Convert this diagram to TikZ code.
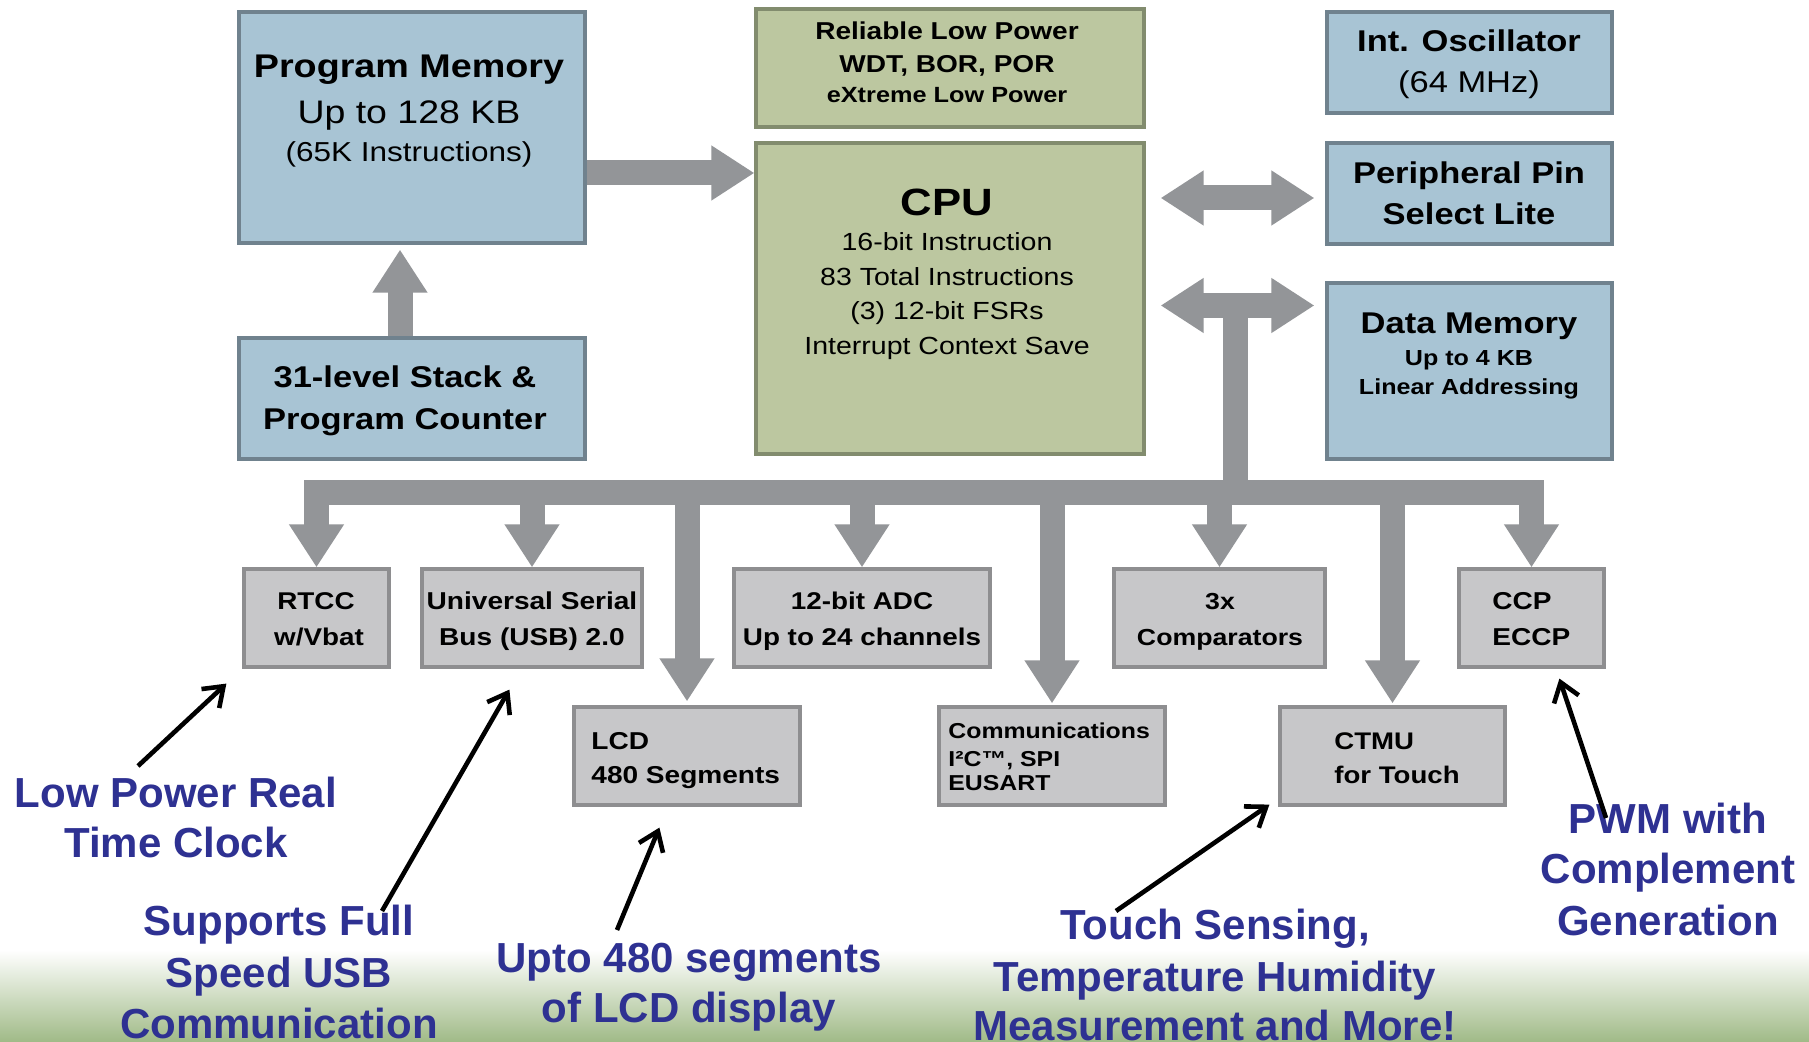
\documentclass[tikz,border=0pt]{standalone}
\usepackage{fontspec}
\setmainfont{Liberation Sans}
\newfontfamily\boxfont[FakeStretch=1.15]{Liberation Sans}
\newfontfamily\lblfont{Liberation Sans}
\usetikzlibrary{arrows.meta,calc}
\definecolor{bluefill}{RGB}{168,196,212}
\definecolor{blueedge}{RGB}{112,130,142}
\definecolor{greenfill}{RGB}{188,199,160}
\definecolor{greenedge}{RGB}{130,140,110}
\definecolor{grayfill}{RGB}{199,199,201}
\definecolor{grayedge}{RGB}{142,142,144}
\definecolor{arrowgray}{RGB}{147,149,152}
\definecolor{lblblue}{RGB}{46,49,146}
\definecolor{grass}{RGB}{160,186,135}
\newcommand\fsz[1]{\fontsize{#1}{#1}\selectfont}
\begin{document}
\begin{tikzpicture}[x=0.5pt,y=-0.5pt,
  box/.style={rectangle, inner sep=0, line width=1.6pt},
  bluebox/.style={box, fill=bluefill, draw=blueedge},
  greenbox/.style={box, fill=greenfill, draw=greenedge},
  graybox/.style={box, fill=grayfill, draw=grayedge},
  bt/.style={anchor=base, inner sep=0, text=black},
  btl/.style={anchor=base west, inner sep=0, text=black},
  lbl/.style={anchor=base, inner sep=0, text=lblblue, font=\lblfont\bfseries\fsz{21pt}},
  fat/.style={draw=arrowgray, line width=12.5pt, line join=miter, >={Triangle[length=21.5pt,width=26pt]}},
  note/.style={draw=black, line width=2.3pt, -{Straight Barb[length=9pt,width=13pt]}}
]
\useasboundingbox (0,0) rectangle (1809,1042);
\fill[white] (0,0) rectangle (1809,1042);
\shade[top color=white, bottom color=grass] (0,950) rectangle (1809,1042);

% ---- boxes ----
\node[bluebox, minimum width=173pt, minimum height=115.5pt] (pm) at (412,127.5) {};
\node[bluebox, minimum width=173pt, minimum height=60.5pt] (stack) at (412,398.5) {};
\node[greenbox, minimum width=194pt, minimum height=59pt] (rel) at (950,68) {};
\node[greenbox, minimum width=194pt, minimum height=155.5pt] (cpu) at (950,298.5) {};
\node[bluebox, minimum width=142.5pt, minimum height=50.5pt] (osc) at (1469.5,62.5) {};
\node[bluebox, minimum width=142.5pt, minimum height=50.5pt] (pps) at (1469.5,193.5) {};
\node[bluebox, minimum width=142.5pt, minimum height=88pt] (dm) at (1469.5,371) {};
\node[graybox, minimum width=72.5pt, minimum height=49pt] (rtcc) at (316.5,618) {};
\node[graybox, minimum width=110pt, minimum height=49pt] (usb) at (532,618) {};
\node[graybox, minimum width=128pt, minimum height=49pt] (adc) at (862,618) {};
\node[graybox, minimum width=105.5pt, minimum height=49pt] (cmp) at (1219.5,618) {};
\node[graybox, minimum width=72.5pt, minimum height=49pt] (ccp) at (1531.5,618) {};
\node[graybox, minimum width=113pt, minimum height=49pt] (lcd) at (687,756) {};
\node[graybox, minimum width=113pt, minimum height=49pt] (comm) at (1052,756) {};
\node[graybox, minimum width=112.5pt, minimum height=49pt] (ctmu) at (1392.5,756) {};

% ---- box texts ----
\node[bt, font=\boxfont\bfseries\fsz{16.4pt}] (pm1) at (409,78) {Program Memory};
\node[bt, font=\boxfont\fsz{16.3pt}] (pm2) at (409,124) {Up to 128 KB};
\node[bt, font=\boxfont\fsz{13.7pt}] (pm3) at (409,162) {(65K Instructions)};
\node[bt, font=\boxfont\bfseries\fsz{12.2pt}] (rel1) at (947,40) {Reliable Low Power};
\node[bt, font=\boxfont\bfseries\fsz{12.2pt}] (rel2) at (947,73) {WDT, BOR, POR};
\node[bt, font=\boxfont\bfseries\fsz{11pt}] (rel3) at (947,103) {eXtreme Low Power};
\node[bt, font=\boxfont\bfseries\fsz{19pt}] (cpu1) at (947,216) {CPU};
\node[bt, font=\boxfont\fsz{12.4pt}] (cpu2) at (947,251) {16-bit Instruction};
\node[bt, font=\boxfont\fsz{12.4pt}] (cpu3) at (947,285.5) {83 Total Instructions};
\node[bt, font=\boxfont\fsz{12.4pt}] (cpu4) at (947,320) {(3) 12-bit FSRs};
\node[bt, font=\boxfont\fsz{12.4pt}] (cpu5) at (947,354.5) {Interrupt Context Save};
\node[bt, font=\boxfont\bfseries\fsz{15pt}] (osc1) at (1469,52) {Int. Oscillator};
\node[bt, font=\boxfont\fsz{15pt}] (osc2) at (1469,93) {(64 MHz)};
\node[bt, font=\boxfont\bfseries\fsz{15pt}] (pps1) at (1469,184) {Peripheral Pin};
\node[bt, font=\boxfont\bfseries\fsz{15pt}] (pps2) at (1469,225) {Select Lite};
\node[bt, font=\boxfont\bfseries\fsz{15pt}] (dm1) at (1469,334) {Data Memory};
\node[bt, font=\boxfont\bfseries\fsz{10.9pt}] (dm2) at (1469,366) {Up to 4 KB};
\node[bt, font=\boxfont\bfseries\fsz{10.9pt}] (dm3) at (1469,395) {Linear Addressing};
\node[bt, font=\boxfont\bfseries\fsz{15pt}] (st1) at (405,388) {31-level Stack \&};
\node[bt, font=\boxfont\bfseries\fsz{15pt}] (st2) at (405,430) {Program Counter};
\node[bt, font=\boxfont\bfseries\fsz{12.1pt}] (rt1) at (316,610) {RTCC};
\node[bt, font=\boxfont\bfseries\fsz{12.1pt}] (rt2) at (319,645) {w/Vbat};
\node[bt, font=\boxfont\bfseries\fsz{12.2pt}] (usb1) at (532,610) {Universal Serial};
\node[bt, font=\boxfont\bfseries\fsz{12.2pt}] (usb2) at (532,645) {Bus (USB) 2.0};
\node[bt, font=\boxfont\bfseries\fsz{12.1pt}] (adc1) at (862,610) {12-bit ADC};
\node[bt, font=\boxfont\bfseries\fsz{12.1pt}] (adc2) at (862,645) {Up to 24 channels};
\node[bt, font=\boxfont\bfseries\fsz{11.6pt}] (cmp1) at (1220,610) {3x};
\node[bt, font=\boxfont\bfseries\fsz{11.6pt}] (cmp2) at (1220,645) {Comparators};
\node[btl, font=\boxfont\bfseries\fsz{12.2pt}] (ccp1) at (1492,610) {CCP};
\node[btl, font=\boxfont\bfseries\fsz{12.2pt}] (ccp2) at (1492,645) {ECCP};
\node[btl, font=\boxfont\bfseries\fsz{12.2pt}] (lcd1) at (591,749) {LCD};
\node[btl, font=\boxfont\bfseries\fsz{12.2pt}] (lcd2) at (591,783) {480 Segments};
\node[btl, font=\boxfont\bfseries\fsz{10.8pt}] (com1) at (948,738) {Communications};
\node[btl, font=\boxfont\bfseries\fsz{10.8pt}] (com2) at (948,766) {I²C™, SPI};
\node[btl, font=\boxfont\bfseries\fsz{10.8pt}] (com3) at (948,790) {EUSART};
\node[btl, font=\boxfont\bfseries\fsz{12pt}] (ct1) at (1334,749) {CTMU};
\node[btl, font=\boxfont\bfseries\fsz{12pt}] (ct2) at (1334,783) {for Touch};

% ---- block arrows ----
\coordinate (pmy) at (0,173);
\coordinate (ppsy) at (0,198);
\coordinate (dmy) at (0,305.5);
\coordinate (busy) at (0,493);
\draw[fat,->] (pm.east |- pmy) -- (cpu.west |- pmy);
\draw[fat,->,shorten >=2.5pt] ([xshift=-6pt]stack.north) -- ([xshift=-6pt]pm.south);
\draw[fat,<->,shorten <=7.5pt,shorten >=5.5pt] (cpu.east |- ppsy) -- (pps.west |- ppsy);
\draw[fat,<->,shorten <=7.5pt,shorten >=5.5pt] (cpu.east |- dmy) -- (dm.west |- dmy);
\coordinate (j) at ($(cpu.east |- dmy)!0.5!(dm.west |- dmy)$);
\draw[fat] (j) -- (j |- busy);
\draw[fat,<->] (rtcc.north) -- (rtcc.north |- busy) -- (ccp.north |- busy) -- (ccp.north);
\draw[fat,->] (usb.north |- busy) -- (usb.north);
\draw[fat,->] (adc.north |- busy) -- (adc.north);
\draw[fat,->] (cmp.north |- busy) -- (cmp.north);
\draw[fat,->,shorten >=2pt] (lcd.north |- busy) -- (lcd.north);
\draw[fat,->,shorten >=1pt] (comm.north |- busy) -- (comm.north);
\draw[fat,->,shorten >=1pt] (ctmu.north |- busy) -- (ctmu.north);

% ---- blue labels ----
\node[lbl] (lp1) at (176,807) {Low Power Real};
\node[lbl] (lp2) at (176,857) {Time Clock};
\node[lbl] (su1) at (279,935) {Supports Full};
\node[lbl] (su2) at (279,987) {Speed USB};
\node[lbl] (su3) at (279,1038) {Communication};
\node[lbl] (up1) at (689,972) {Upto 480 segments};
\node[lbl] (up2) at (689,1022) {of LCD display};
\node[lbl] (ts1) at (1215,939) {Touch Sensing,};
\node[lbl] (ts2) at (1215,991) {Temperature Humidity};
\node[lbl] (ts3) at (1215,1040) {Measurement and More!};
\node[lbl] (pw1) at (1668,833) {PWM with};
\node[lbl] (pw2) at (1668,883) {Complement};
\node[lbl] (pw3) at (1668,935) {Generation};

% ---- annotation arrows ----
\coordinate (n1s) at ($(lp1.base)+(-38,-41)$);
\coordinate (n1e) at ($(rtcc.south west)+(-16,15)$);
\coordinate (n2s) at ($(su1.base)+(103,-24)$);
\coordinate (n2e) at ($(usb.south west)+(89,21)$);
\coordinate (n3s) at ($(up1.base)+(-72,-42)$);
\coordinate (n3e) at ($(lcd.south west)+(87,21)$);
\coordinate (n4s) at ($(ts1.base)+(-99,-28)$);
\coordinate (n4e) at ($(ctmu.south west)+(-9,-2)$);
\coordinate (n5s) at ($(pw1.base)+(-62,-15)$);
\coordinate (n5e) at ($(ccp.south west)+(102,10)$);
\draw[note] (n1s) -- (n1e);
\draw[note] (n2s) -- (n2e);
\draw[note] (n3s) -- (n3e);
\draw[note] (n4s) -- (n4e);
\draw[note] (n5s) -- (n5e);
\end{tikzpicture}
\end{document}
